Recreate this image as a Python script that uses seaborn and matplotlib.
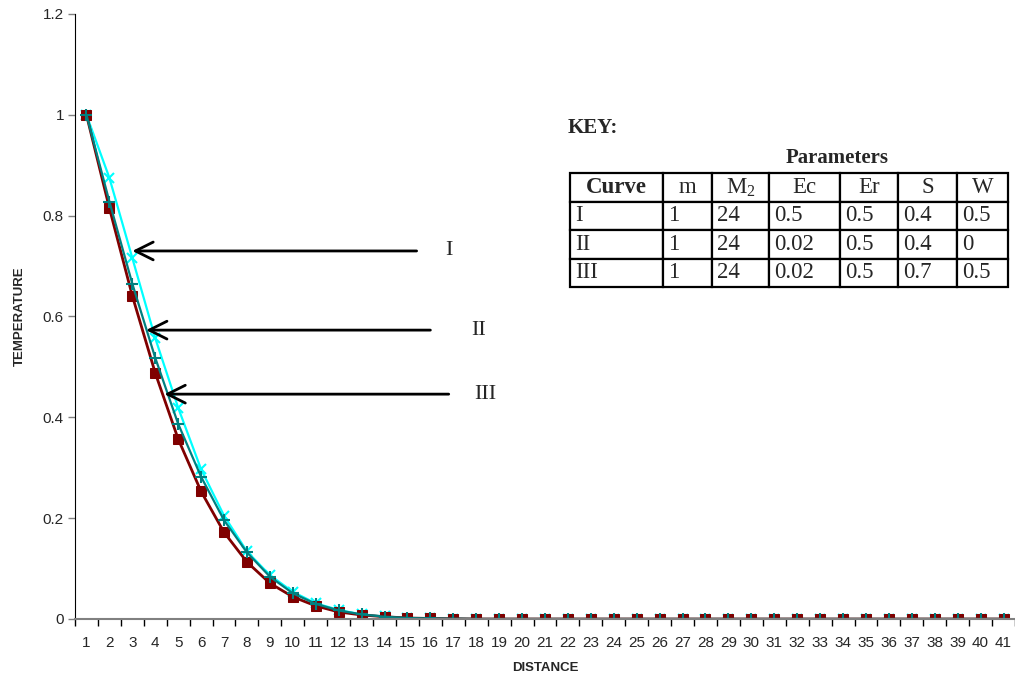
import numpy as np
import pandas as pd
import matplotlib
matplotlib.use("Agg")
import matplotlib.pyplot as plt
from matplotlib.ticker import FuncFormatter, MultipleLocator
import seaborn as sns

# distance index (category axis 1..41)
distance = list(range(1, 42))

# temperature profiles (tail is ~0)
temp_maroon = [1.0, 0.815, 0.641, 0.488, 0.357, 0.253, 0.172, 0.113, 0.071, 0.044,
               0.026, 0.014, 0.008, 0.0045, 0.002, 0.001, 0.0005] + [0.0] * 24
temp_teal = [1.0, 0.828, 0.665, 0.518, 0.387, 0.282, 0.196, 0.132, 0.084, 0.051,
             0.030, 0.017, 0.009, 0.0045, 0.002, 0.001, 0.0005] + [0.0] * 24
temp_cyan = [1.0, 0.875, 0.716, 0.557, 0.419, 0.297, 0.205, 0.134, 0.087, 0.054,
             0.031, 0.018, 0.009, 0.005, 0.002, 0.001, 0.0005] + [0.0] * 24

# key table
table_cols = ["Curve", "m", "M$_2$", "Ec", "Er", "S", "W"]
table_rows = [
    ["I", "1", "24", "0.5", "0.5", "0.4", "0.5"],
    ["II", "1", "24", "0.02", "0.5", "0.4", "0"],
    ["III", "1", "24", "0.02", "0.5", "0.7", "0.5"],
]
col_px = [93, 49, 57, 71, 58, 59, 51]

# arrow annotations: label, tip (x, y), tail x, label x
arrow_labels = ["I", "II", "III"]
arrow_tip_x = [3.0, 3.6, 4.4]
arrow_y = [0.730, 0.573, 0.446]
arrow_tail_x = [15.4, 16.0, 16.8]
label_x = [16.65, 17.8, 17.9]

sns.set_style("ticks")
plt.rcParams["font.family"] = ["Liberation Sans", "DejaVu Sans"]
plt.rcParams["mathtext.fontset"] = "custom"
plt.rcParams["mathtext.rm"] = "Liberation Serif"

df = pd.DataFrame({"distance": distance, "maroon": temp_maroon,
                   "teal": temp_teal, "cyan": temp_cyan})

fig = plt.figure(figsize=(10.15, 6.81), dpi=100)
ax = fig.add_axes([75 / 1015, 62 / 681, 940 / 1015, 605 / 681])

sns.lineplot(data=df, x="distance", y="cyan", ax=ax, color="#00FFFF", lw=1.6,
             marker="x", markersize=7, markeredgewidth=1.5, markeredgecolor="#00FFFF")
sns.lineplot(data=df, x="distance", y="maroon", ax=ax, color="#800000", lw=2,
             marker="s", markersize=7, markeredgecolor="#800000")
sns.lineplot(data=df, x="distance", y="teal", ax=ax, color="#008080", lw=1.6,
             marker="+", markersize=8, markeredgewidth=1.5, markeredgecolor="#008080")

ax.set_xlim(0.5, 41.5)
ax.set_ylim(0, 1.2)
ax.xaxis.set_major_locator(MultipleLocator(1))
ax.xaxis.set_minor_locator(MultipleLocator(1, offset=0.5))
ax.tick_params(axis="x", which="major", length=0, pad=12, labelsize=11)
ax.tick_params(axis="x", which="minor", length=5, color="black", width=1)
ax.yaxis.set_major_locator(MultipleLocator(0.2))
ax.yaxis.set_major_formatter(FuncFormatter(lambda v, p: f"{v:g}"))
ax.tick_params(axis="y", length=5, color="#808080", width=1, labelsize=11, pad=3)
sns.despine(ax=ax)
ax.spines["left"].set_color("black")
ax.spines["bottom"].set_color("#808080")
ax.spines["bottom"].set_linewidth(1.5)

ax.set_xlabel("DISTANCE", fontsize=9.5, fontweight="bold", labelpad=9)
ax.set_ylabel("")
fig.text(20 / 1015, 1 - 316 / 681, "TEMPERATURE", fontsize=9.5, fontweight="bold",
         rotation=90, va="center", ha="center")

for lab, tx, y, sx, lx in zip(arrow_labels, arrow_tip_x, arrow_y, arrow_tail_x, label_x):
    ax.annotate("", xy=(tx, y), xytext=(sx, y),
                arrowprops=dict(arrowstyle="->", lw=2, color="black", mutation_scale=32,
                                shrinkA=0, shrinkB=0))
    ax.text(lx, y, lab, fontsize=16, family="Liberation Serif", va="center", ha="left")

# key table
fig.text(568 / 1015, 1 - 128 / 681, "KEY:", fontsize=15, fontweight="bold",
         family="Liberation Serif", va="center", ha="left")
fig.text(837 / 1015, 1 - 158 / 681, "Parameters", fontsize=15, fontweight="bold",
         family="Liberation Serif", va="center", ha="center")

tw = sum(col_px)
tbl = ax.table(cellText=table_rows, colLabels=table_cols, cellLoc="left",
               colWidths=[c / tw for c in col_px],
               bbox=[(570 - 75) / 940, (619 - 287) / 605, tw / 940, 114 / 605])
tbl.auto_set_font_size(False)
for (r, c), cell in tbl.get_celld().items():
    cell.set_linewidth(1.6)
    cell.set_edgecolor("black")
    cell.PAD = 5 / col_px[c]
    txt = cell.get_text()
    txt.set_fontsize(16.5)
    txt.set_family("Liberation Serif")
    if r == 0 and c == 0:
        txt.set_fontweight("bold")

fig.savefig("out.png", dpi=100)
